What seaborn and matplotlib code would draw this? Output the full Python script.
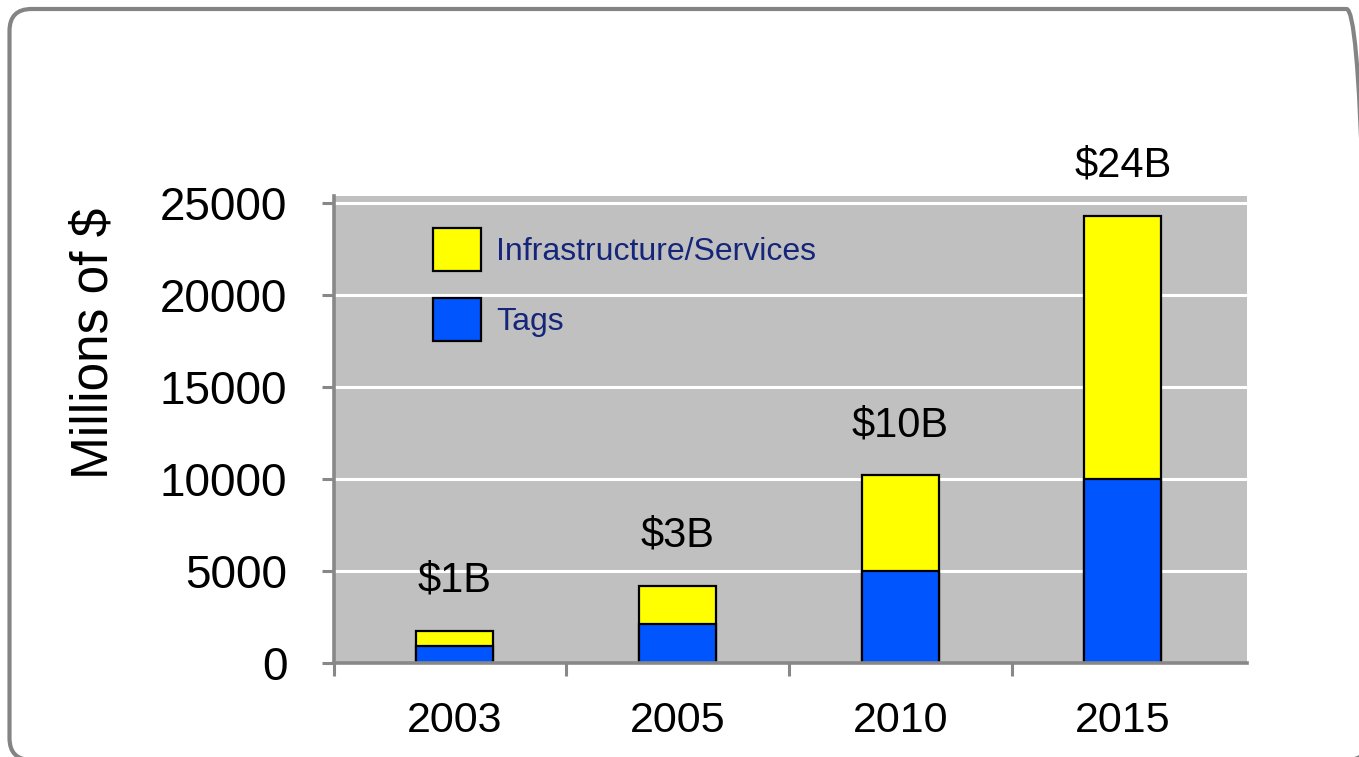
import matplotlib
matplotlib.use("Agg")
import matplotlib.pyplot as plt
import seaborn as sns
import numpy as np
from matplotlib.patches import Patch, FancyBboxPatch

# ---- data ----
years = ["2003", "2005", "2010", "2015"]
tags = [900, 2100, 5000, 10000]
infra = [850, 2100, 5200, 14300]
total_labels = ["$1B", "$3B", "$10B", "$24B"]
series_names = ["Infrastructure/Services", "Tags"]
yticks = [0, 5000, 10000, 15000, 20000, 25000]

totals = [t + i for t, i in zip(tags, infra)]

sns.set_theme(style="white")
plt.rcParams['font.family'] = ['Liberation Sans', 'DejaVu Sans']

W, H, DPI = 1359, 757, 100
fig = plt.figure(figsize=(W / DPI, H / DPI), dpi=DPI)
fig.patch.set_facecolor("white")

# outer rounded frame (inches, origin bottom-left)
frame = FancyBboxPatch((0.095, -0.03), 13.59, 7.51,
                       boxstyle="round,pad=0,rounding_size=0.22",
                       transform=fig.dpi_scale_trans, facecolor="none",
                       edgecolor="#848484", linewidth=3.0, zorder=0)
fig.patches.append(frame)

left, right, top, bottom = 334, 1247, 196, 663
ax = fig.add_axes([left / W, 1 - bottom / H, (right - left) / W, (bottom - top) / H])
ax.set_facecolor("#C0C0C0")

yellow = "#FFFF00"
blue = "#0055FF"
bw = 0.346

sns.barplot(x=years, y=totals, color=yellow, edgecolor="black", linewidth=1.6,
            width=bw, saturation=1, ax=ax, zorder=3)
sns.barplot(x=years, y=tags, color=blue, edgecolor="black", linewidth=1.6,
            width=bw, saturation=1, ax=ax, zorder=4)

ax.set_xlim(-0.543, 3.557)
ax.set_ylim(0, 25360)

# grid
ax.set_yticks(yticks)
ax.yaxis.grid(True, color="white", linewidth=2.2, zorder=1)
ax.xaxis.grid(False)
ax.set_axisbelow(True)

# spines
for s in ["top", "right"]:
    ax.spines[s].set_visible(False)
for s in ["left", "bottom"]:
    ax.spines[s].set_visible(True)
    ax.spines[s].set_color("#888888")
    ax.spines[s].set_linewidth(2.6)
    ax.spines[s].set_zorder(5)

# x ticks: boundaries (major) and labels (minor)
ax.set_xticks([-0.543, 0.5, 1.5, 2.5])
ax.set_xticklabels([])
ax.set_xticks(range(len(years)), minor=True)
ax.set_xticklabels(years, minor=True)
ax.tick_params(axis="x", which="major", direction="out", length=9.5, width=2.2,
               color="#888888", bottom=True)
ax.tick_params(axis="x", which="minor", length=0, pad=27, labelsize=31, labelcolor="black")
ax.tick_params(axis="y", direction="out", length=8.6, width=2.2, color="#888888",
               left=True, pad=25, labelsize=33, labelcolor="black")

ax.set_ylabel("Millions of $", fontsize=37, color="black")
ax.yaxis.set_label_coords(-0.236, 0.685)
ax.set_xlabel("")

# total annotations
for i, (tot, lab) in enumerate(zip(totals, total_labels)):
    ax.annotate(lab, xy=(i, tot), xytext=(0, 28), textcoords="offset points",
                ha="center", va="baseline", fontsize=30, color="black",
                annotation_clip=False, zorder=6)

# legend
handles = [Patch(facecolor=yellow, edgecolor="black", linewidth=1.6),
           Patch(facecolor=blue, edgecolor="black", linewidth=1.6)]
leg = ax.legend(handles, series_names, loc="upper left",
                bbox_to_anchor=(0.108, 0.931), frameon=False, fontsize=23,
                handlelength=1.5, handleheight=1.69, labelspacing=0.85,
                handletextpad=0.5, borderpad=0, borderaxespad=0)
for t in leg.get_texts():
    t.set_color("#14257A")

fig.savefig("out.png", dpi=DPI, facecolor="white")
